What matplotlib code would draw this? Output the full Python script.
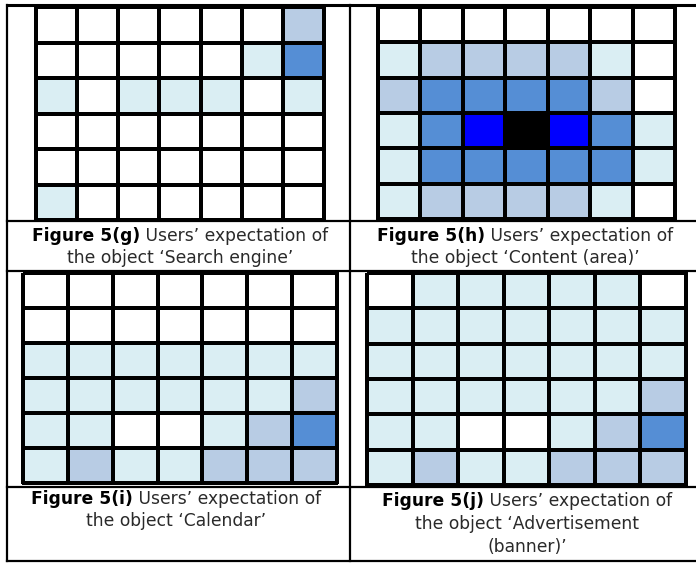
import numpy as np
import matplotlib
matplotlib.use('Agg')
import matplotlib.pyplot as plt
from matplotlib.colors import ListedColormap
from matplotlib.lines import Line2D

# shade levels: 0 white, 1 pale cyan, 2 grey-blue, 3 mid blue, 4 pure blue, 5 black
shade_colors = ['#FFFFFF', '#DAEEF3', '#B8CCE4', '#558ED5', '#0000FF', '#000000']

search_engine = [
    [0, 0, 0, 0, 0, 0, 2],
    [0, 0, 0, 0, 0, 1, 3],
    [1, 0, 1, 1, 1, 0, 1],
    [0, 0, 0, 0, 0, 0, 0],
    [0, 0, 0, 0, 0, 0, 0],
    [1, 0, 0, 0, 0, 0, 0],
]
content_area = [
    [0, 0, 0, 0, 0, 0, 0],
    [1, 2, 2, 2, 2, 1, 0],
    [2, 3, 3, 3, 3, 2, 0],
    [1, 3, 4, 5, 4, 3, 1],
    [1, 3, 3, 3, 3, 3, 1],
    [1, 2, 2, 2, 2, 1, 0],
]
calendar = [
    [0, 0, 0, 0, 0, 0, 0],
    [0, 0, 0, 0, 0, 0, 0],
    [1, 1, 1, 1, 1, 1, 1],
    [1, 1, 1, 1, 1, 1, 2],
    [1, 1, 0, 0, 1, 2, 3],
    [1, 2, 1, 1, 2, 2, 2],
]
advertisement = [
    [0, 1, 1, 1, 1, 1, 0],
    [1, 1, 1, 1, 1, 1, 1],
    [1, 1, 1, 1, 1, 1, 1],
    [1, 1, 1, 1, 1, 1, 2],
    [1, 1, 0, 0, 1, 2, 3],
    [1, 2, 1, 1, 2, 2, 2],
]

captions = [
    ('Figure 5(g)', [' Users\u2019 expectation of', 'the object \u2018Search engine\u2019']),
    ('Figure 5(h)', [' Users\u2019 expectation of', 'the object \u2018Content (area)\u2019']),
    ('Figure 5(i)', [' Users\u2019 expectation of', 'the object \u2018Calendar\u2019']),
    ('Figure 5(j)', [' Users\u2019 expectation of', 'the object \u2018Advertisement', '(banner)\u2019']),
]

W, H = 696, 563
plt.rcParams['font.family'] = ['DejaVu Sans']
fig = plt.figure(figsize=(W / 100, H / 100), dpi=100)
cmap = ListedColormap(shade_colors)


def fx(x):
    return x / W


def fy(y):
    return 1 - y / H


def hline(y, x0, x1, lw=1.6):
    fig.add_artist(Line2D([fx(x0), fx(x1)], [fy(y), fy(y)], color='black',
                          lw=lw, transform=fig.transFigure))


def vline(x, y0, y1, lw=1.6):
    fig.add_artist(Line2D([fx(x), fx(x)], [fy(y0), fy(y1)], color='black',
                          lw=lw, transform=fig.transFigure))


# table frame
hline(5, 7, 696, lw=2.2)
hline(221, 7, 696)
hline(271, 7, 696)
hline(487, 7, 696)
hline(561, 7, 696)
vline(7, 5, 561)
vline(350, 5, 561)

# grid boxes in pixels: x0, x1, y0, y1
boxes = [(36, 324, 7, 220), (378, 675, 7, 219), (23, 337, 273, 483), (367, 686, 273, 485)]
grids = [search_engine, content_area, calendar, advertisement]

for (x0, x1, y0, y1), grid in zip(boxes, grids):
    ax = fig.add_axes([fx(x0), fy(y1), (x1 - x0) / W, (y1 - y0) / H])
    data = np.array(grid)
    mesh = ax.pcolormesh(data, cmap=cmap, vmin=-0.5, vmax=5.5,
                         edgecolors='black', linewidth=1.6)
    mesh.set_clip_on(False)
    ax.set_xlim(0, data.shape[1])
    ax.set_ylim(data.shape[0], 0)
    ax.axis('off')

# captions: centre x, first line y, line spacing
cap_pos = [(180, 236, 22), (525, 236, 22), (176, 499, 22), (527, 501, 23)]
renderer = fig.canvas.get_renderer()
fs = 12.3
for (cx, cy, dy), (bold, lines) in zip(cap_pos, captions):
    tb = fig.text(0, fy(cy), bold, fontsize=fs, weight='bold', color='#000000',
                  ha='left', va='center')
    tr = fig.text(0, fy(cy), lines[0], fontsize=fs, color='#2a2a2a',
                  ha='left', va='center')
    wb = tb.get_window_extent(renderer).width
    wr = tr.get_window_extent(renderer).width
    left = cx - (wb + wr) / 2
    tb.set_x(fx(left))
    tr.set_x(fx(left + wb))
    for i, line in enumerate(lines[1:], start=1):
        fig.text(fx(cx), fy(cy + i * dy), line, fontsize=fs, color='#2a2a2a',
                 ha='center', va='center')

fig.savefig('out.png', dpi=100)
